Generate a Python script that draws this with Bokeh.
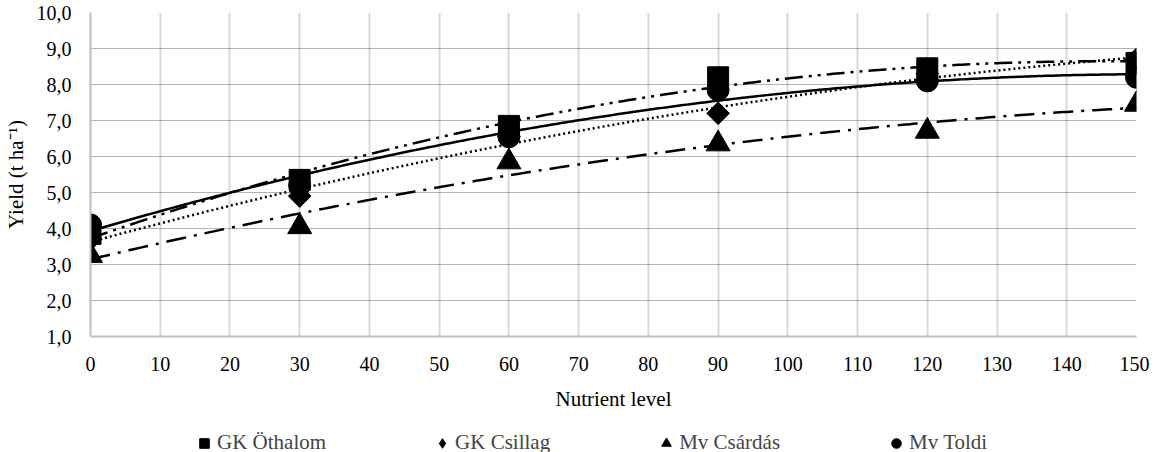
import numpy as np
from bokeh.plotting import figure
from bokeh.layouts import column
from bokeh.models import (FixedTicker, Legend, LegendItem, Range1d)
from bokeh.embed import file_html
from bokeh.resources import INLINE

# ---- data ----
nutrient = [0, 30, 60, 90, 120, 150]
othalom = [3.85, 5.35, 6.85, 8.2, 8.45, 8.6]
csillag = [3.7, 4.9, 6.55, 7.2, 8.3, 8.7]
csardas = [3.25, 4.05, 5.85, 6.35, 6.7, 7.45]
toldi = [4.1, 5.2, 6.55, 7.85, 8.1, 8.2]

series_names = ["GK Öthalom", "GK Csillag", "Mv Csárdás", "Mv Toldi"]
x_ticks = list(range(0, 151, 10))
y_ticks = [1, 2, 3, 4, 5, 6, 7, 8, 9, 10]
y_tick_labels = ["1,0", "2,0", "3,0", "4,0", "5,0", "6,0", "7,0", "8,0", "9,0", "10,0"]

FONT = "Liberation Serif"

p = figure(width=1149, height=431, output_backend="svg", toolbar_location=None,
           x_range=Range1d(0, 150), y_range=Range1d(1, 10))
p.min_border_left = 85
p.min_border_right = 13
p.min_border_top = 12
p.min_border_bottom = 95
p.outline_line_color = None

# grids
p.xgrid.ticker = FixedTicker(ticks=x_ticks)
p.xgrid.grid_line_color = "#d9d9d9"
p.xgrid.grid_line_width = 2
p.ygrid.ticker = FixedTicker(ticks=y_ticks)
p.ygrid.grid_line_color = "#666666"
p.ygrid.grid_line_width = 1
p.ygrid.grid_line_dash = "1 1"

# axes
p.xaxis.ticker = FixedTicker(ticks=x_ticks)
p.yaxis.ticker = FixedTicker(ticks=y_ticks)
p.yaxis.major_label_overrides = {t: l for t, l in zip(y_ticks, y_tick_labels)}
for ax in (p.xaxis[0], p.yaxis[0]):
    ax.axis_line_color = "#bfbfbf"
    ax.axis_line_width = 2
    ax.major_tick_line_color = None
    ax.minor_tick_line_color = None
    ax.major_label_text_font = FONT
    ax.major_label_text_font_size = "20px"
    ax.major_label_text_color = "black"
    ax.axis_label_text_font = FONT
    ax.axis_label_text_font_size = "21px"
    ax.axis_label_text_font_style = "normal"
    ax.axis_label_text_color = "black"
p.xaxis.major_label_standoff = 14
p.yaxis.major_label_standoff = 13
p.xaxis.axis_label = "Nutrient level"
p.xaxis.axis_label_standoff = 13
p.yaxis.axis_label = "Yield (t ha⁻¹)"
p.yaxis.axis_label_standoff = 6

# trend lines (2nd order polynomial fits computed from the data)
xs = np.linspace(0, 150, 301)
styles = [
    dict(line_dash="18 6 3 6 3 6", line_width=2.5),
    dict(line_dash="2 3", line_width=2.5),
    dict(line_dash="20 8 3 8", line_width=2.5),
    dict(line_dash="solid", line_width=2.5),
]
all_series = [othalom, csillag, csardas, toldi]
for ys, st in zip(all_series, styles):
    coef = np.polyfit(nutrient, ys, 2)
    p.line(xs, np.polyval(coef, xs), line_color="black", **st)

# markers
p.scatter(nutrient, othalom, marker="square", size=21, color="black")
p.scatter(nutrient, csillag, marker="square", angle=np.pi / 4, size=16, color="black")
p.scatter(nutrient, csardas, marker="triangle", size=24, color="black")
p.scatter(nutrient, toldi, marker="circle", size=22, color="black")

# legend strip below the chart (its frame is aligned with the chart frame)
lg = figure(width=1149, height=28, output_backend="svg", toolbar_location=None,
            x_axis_type=None, y_axis_type=None,
            x_range=Range1d(-20, -10), y_range=Range1d(-20, -10))
lg.min_border = 0
lg.outline_line_color = None
lg.xgrid.visible = False
lg.ygrid.visible = False
legend_markers = ["square", "diamond", "triangle", "circle"]
lrs = [lg.scatter(x=nutrient[:1], y=ys[:1], marker=m, color="black")
       for m, ys in zip(legend_markers, all_series)]
legend = Legend(items=[LegendItem(label=n, renderers=[r]) for n, r in zip(series_names, lrs)],
                orientation="horizontal", location=(101, 4))
legend.label_text_font = FONT
legend.label_text_font_size = "21px"
legend.glyph_width = 26
legend.glyph_height = 24
legend.label_height = 24
legend.label_standoff = -3
legend.label_width = 0
legend.spacing = 103
legend.padding = 0
legend.margin = 0
legend.border_line_color = None
legend.background_fill_alpha = 0
lg.add_layout(legend, "center")

layout = column(p, lg, spacing=0)
open("out.html", "w").write(file_html(layout, INLINE))
